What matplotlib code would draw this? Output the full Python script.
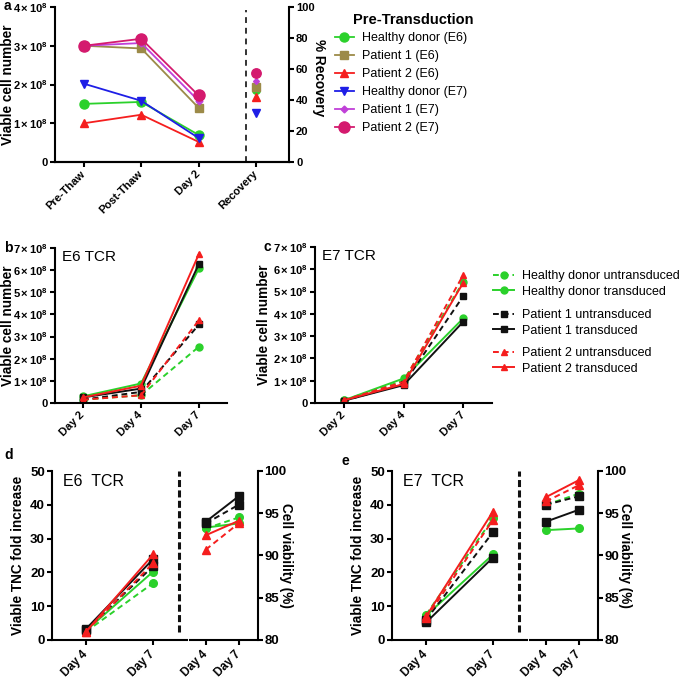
import matplotlib
matplotlib.use('Agg')
import matplotlib.pyplot as plt

plt.rcParams['font.family'] = ['Liberation Sans', 'DejaVu Sans']
plt.rcParams['mathtext.fontset'] = 'custom'
plt.rcParams['mathtext.rm'] = 'Liberation Sans'
plt.rcParams['mathtext.bf'] = 'Liberation Sans:bold'

W, H = 685, 680

# ---- panel a data ----
a_cats = ['Pre-Thaw', 'Post-Thaw', 'Day 2', 'Recovery']
a_names = ['Healthy donor (E6)', 'Patient 1 (E6)', 'Patient 2 (E6)',
           'Healthy donor (E7)', 'Patient 1 (E7)', 'Patient 2 (E7)']
a_cells = [[1.50e8, 1.55e8, 0.70e8],
           [3.00e8, 2.93e8, 1.40e8],
           [1.00e8, 1.22e8, 0.52e8],
           [2.02e8, 1.58e8, 0.62e8],
           [3.00e8, 3.07e8, 1.58e8],
           [3.00e8, 3.18e8, 1.72e8]]
a_recovery = [46.3, 48.2, 41.8, 31.5, 52.2, 57.5]

# ---- panels b / c data (viable cell number) ----
bc_days = ['Day 2', 'Day 4', 'Day 7']
bc_names = ['Healthy donor untransduced', 'Healthy donor transduced',
            'Patient 1 untransduced', 'Patient 1 transduced',
            'Patient 2 untransduced', 'Patient 2 transduced']
b_cells = [[0.15e8, 0.35e8, 2.55e8],
           [0.30e8, 0.88e8, 6.10e8],
           [0.15e8, 0.50e8, 3.55e8],
           [0.25e8, 0.65e8, 6.30e8],
           [0.15e8, 0.35e8, 3.75e8],
           [0.25e8, 0.78e8, 6.75e8]]
c_cells = [[0.12e8, 1.00e8, 5.45e8],
           [0.12e8, 1.10e8, 3.80e8],
           [0.10e8, 0.85e8, 4.80e8],
           [0.10e8, 0.80e8, 3.65e8],
           [0.12e8, 0.95e8, 5.75e8],
           [0.12e8, 0.85e8, 5.40e8]]

# ---- panels d / e data ----
de_days = ['Day 4', 'Day 7']
d_fold = [[2.5, 16.8], [2.8, 20.2], [3.0, 21.8], [3.3, 23.9], [2.5, 22.7], [2.5, 25.3]]
d_viab = [[93.2, 94.5], [93.3, 93.8], [93.8, 96.0], [94.0, 97.0], [90.7, 93.8], [92.4, 94.1]]
e_fold = [[7.5, 36.0], [7.2, 25.3], [6.0, 31.9], [5.2, 24.4], [6.5, 35.5], [7.0, 38.0]]
e_viab = [[96.0, 97.3], [93.0, 93.2], [96.0, 97.0], [94.0, 95.4], [96.4, 98.3], [96.9, 98.9]]

# styles
GREEN, BLACK, RED = '#2BD12B', '#111111', '#F51E1E'
a_styles = [dict(color=GREEN, marker='o', ms=6.5),
            dict(color='#9C8A48', marker='s', ms=6),
            dict(color=RED, marker='^', ms=6),
            dict(color='#1E1EE6', marker='v', ms=6),
            dict(color='#C040D8', marker='D', ms=3.5),
            dict(color='#D41A6E', marker='o', ms=8)]
bc_styles = [dict(color=GREEN, marker='o', ls=(0, (3, 2))),
             dict(color=GREEN, marker='o', ls='-'),
             dict(color=BLACK, marker='s', ls=(0, (3, 2))),
             dict(color=BLACK, marker='s', ls='-'),
             dict(color=RED, marker='^', ls=(0, (3, 2))),
             dict(color=RED, marker='^', ls='-')]

LABSIZE = 9.8


def style_axes(ax, size=8, xpad=3.6):
    for s in ['left', 'bottom', 'right']:
        ax.spines[s].set_linewidth(1.5)
    ax.spines['top'].set_visible(False)
    ax.tick_params(labelsize=size, width=1.5, length=3.6, direction='out')
    ax.tick_params(axis='y', pad=1.5)
    ax.tick_params(axis='x', pad=xpad)
    for lab in ax.get_yticklabels():
        lab.set_fontweight('bold')


def sci_labels(n):
    labs = ['0']
    for i in range(1, n + 1):
        labs.append(r'$\mathbf{%d\,{\times}\,10^{8}}$' % i)
    return labs


def rect(l, t, r, b):
    return [l / W, 1 - b / H, (r - l) / W, (b - t) / H]


def xlabels(ax, pos, labels, size=8):
    ax.set_xticks(pos)
    ax.set_xticklabels(labels, rotation=45, ha='right', va='center',
                       rotation_mode='anchor', fontsize=size, fontweight='bold')


def right_label(ax, text, x, y=0.5):
    ax.set_ylabel(text, rotation=270, fontsize=LABSIZE, fontweight='bold', va='bottom')
    ax.yaxis.set_label_coords(x, y)


def left_label(ax, text, x):
    ax.set_ylabel(text, fontsize=LABSIZE, fontweight='bold')
    ax.yaxis.set_label_coords(x, 0.5)


fig = plt.figure(figsize=(W / 100, H / 100), dpi=100)

# ---------------- panel a ----------------
ax = fig.add_axes(rect(55, 7, 289, 162))
xa = [0, 1, 2]
handles = []
for vals, st in zip(a_cells, a_styles):
    h, = ax.plot(xa, vals, lw=1.3, **st)
    handles.append(h)
ax.set_xlim(-0.506, 3.58)
ax.set_ylim(0, 4e8)
ax.set_yticks([i * 1e8 for i in range(5)])
ax.set_yticklabels(sci_labels(4))
ax.axvline(2.83, ymin=0, ymax=0.98, color='#333333', lw=1.4, ls=(0, (3, 2.5)))
xlabels(ax, [0, 1, 2, 3], a_cats)
left_label(ax, 'Viable cell number', -0.171)
ax.spines['right'].set_visible(False)
style_axes(ax)
ax2 = ax.twinx()
ax2.set_ylim(0, 100)
for v, st in zip(a_recovery, a_styles):
    ax2.plot([3], [v], ls='none', **dict(st, ms=st['ms'] * 0.85))
ax2.set_yticks([0, 20, 40, 60, 80, 100])
style_axes(ax2)
ax2.spines['left'].set_visible(False)
right_label(ax2, '% Recovery', 1.097, 0.545)
fig.legend(handles, a_names, loc='upper left', bbox_to_anchor=(330 / W, 1 - 27 / H),
           frameon=False, fontsize=9, handlelength=1.5, handletextpad=0.7,
           labelspacing=0.48, borderaxespad=0)
fig.text(353 / W, 1 - 20 / H, 'Pre-Transduction', fontsize=10.5, fontweight='bold',
         va='center', ha='left')


# ---------------- panels b, c ----------------
def panel_bc(box, data, title, lab_x):
    ax = fig.add_axes(rect(*box))
    hs = []
    for vals, st in zip(data, bc_styles):
        h, = ax.plot([0, 1, 2], vals, lw=1.4, ms=5, **st)
        hs.append(h)
    ax.set_xlim(-0.48, 2.48)
    ax.set_ylim(0, 7e8)
    ax.set_yticks([i * 1e8 for i in range(8)])
    ax.set_yticklabels(sci_labels(7))
    xlabels(ax, [0, 1, 2], bc_days)
    ax.spines['right'].set_visible(False)
    style_axes(ax)
    left_label(ax, 'Viable cell number', lab_x)
    ax.text(0.04, 0.94, title, transform=ax.transAxes, fontsize=11, va='center')
    return hs


panel_bc((55, 248, 227, 403), b_cells, 'E6 TCR', -0.233)
hs = panel_bc((315, 247, 492, 403), c_cells, 'E7 TCR', -0.249)
for k, ytop in enumerate([265, 304, 342]):
    fig.legend(hs[2 * k:2 * k + 2], bc_names[2 * k:2 * k + 2], loc='upper left',
               bbox_to_anchor=(488 / W, 1 - ytop / H), frameon=False, fontsize=9,
               handlelength=1.7, handletextpad=0.6, labelspacing=0.3, borderaxespad=0)


# ---------------- panels d, e ----------------
def panel_de(x0, fold, viab, title, rx):
    ax = fig.add_axes(rect(x0 + 52, 471, x0 + 258, 640))
    xl = [0, 1]
    xr = [1.79, 2.28]
    for vals, st in zip(fold, bc_styles):
        ax.plot(xl, vals, lw=1.4, ms=5.5, **st)
    ax.set_xlim(-0.51, 2.57)
    ax.set_ylim(0, 50)
    ax.set_yticks([0, 10, 20, 30, 40, 50])
    xlabels(ax, xl + xr, de_days + de_days, size=8.5)
    ax.spines['right'].set_visible(False)
    style_axes(ax, 9.5, xpad=5.5)
    for lab in ax.get_xticklabels():
        lab.set_fontsize(8.5)
    ax.spines['bottom'].set_bounds(-0.51, 1.51)
    ax.plot([1.535, 2.57], [0, 0], color='k', lw=1.5, clip_on=False, solid_capstyle='butt')
    ax.axvline(1.39, ymin=0.05, ymax=1.0, color=BLACK, lw=2.2, ls=(0, (2.3, 1.1)))
    left_label(ax, 'Viable TNC fold increase', -0.131)
    ax.text(0.053, 0.935, title, transform=ax.transAxes, fontsize=11.5, va='center')
    ax2 = ax.twinx()
    for vals, st in zip(viab, bc_styles):
        ax2.plot(xr, vals, lw=1.4, ms=5.5, **st)
    ax2.set_ylim(80, 100)
    ax2.set_yticks([80, 85, 90, 95, 100])
    style_axes(ax2, 9.5)
    ax2.tick_params(axis='y', pad=1)
    ax2.spines['left'].set_visible(False)
    ax2.spines['bottom'].set_visible(False)
    right_label(ax2, 'Cell viability (%)', rx)


panel_de(0, d_fold, d_viab, 'E6  TCR', 1.102)
panel_de(340, e_fold, e_viab, 'E7  TCR', 1.097)

for lab, x, y in [('a', 4, 6), ('b', 4, 248), ('c', 263, 247), ('d', 4, 455), ('e', 341, 461)]:
    fig.text(x / W, 1 - y / H, lab, fontsize=10, fontweight='bold', va='center', ha='left')

fig.savefig('out.png', dpi=100)
